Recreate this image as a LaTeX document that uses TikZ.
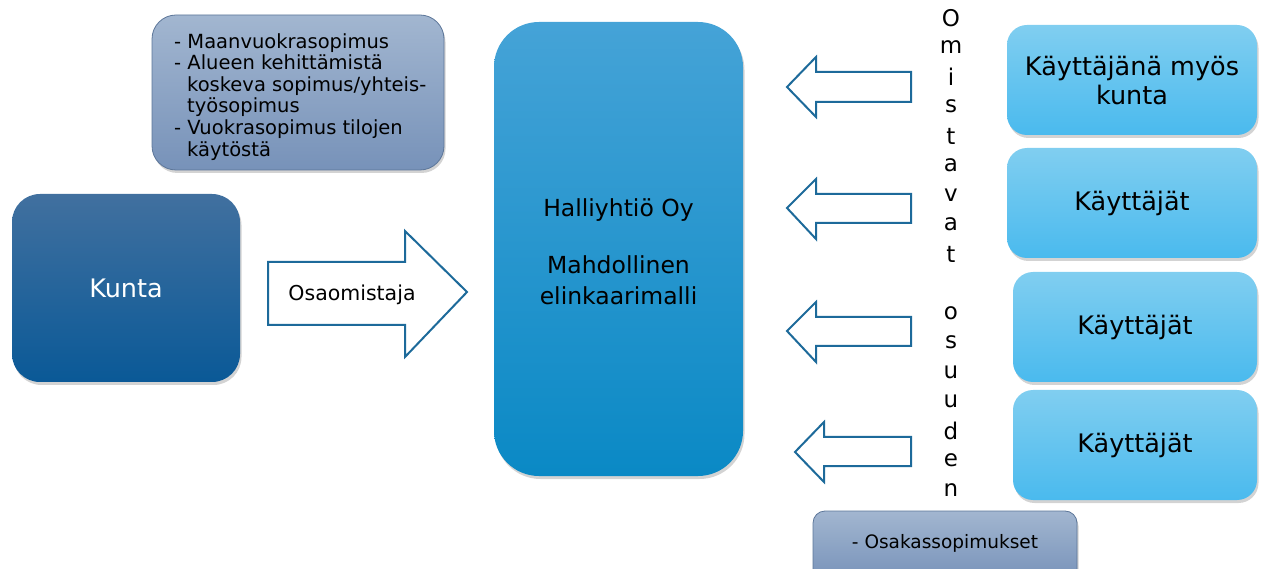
\documentclass[tikz,border=0pt]{standalone}
\usepackage{fontspec}
\setmainfont{DejaVu Sans}
\usetikzlibrary{shadows}
\definecolor{greytop}{HTML}{A2B6D0}
\definecolor{greybot}{HTML}{7792B9}
\definecolor{greyedge}{HTML}{5C7699}
\definecolor{kuntatop}{HTML}{41709F}
\definecolor{kuntabot}{HTML}{0A5997}
\definecolor{hallitop}{HTML}{45A3D7}
\definecolor{hallibot}{HTML}{0A89C5}
\definecolor{usertop}{HTML}{80CEF0}
\definecolor{userbot}{HTML}{4ABAEE}
\definecolor{arrowedge}{HTML}{1D6A9A}
\tikzset{
  boxshadow/.style={drop shadow={opacity=0.35, shadow xshift=1.5pt, shadow yshift=-3pt}},
  greybox/.style={draw=greyedge, line width=0.8pt, rounded corners=24pt,
    top color=greytop, bottom color=greybot, boxshadow, inner sep=0pt},
  kuntabox/.style={rounded corners=28pt, top color=kuntatop, bottom color=kuntabot,
    boxshadow, text=white, font=\fontsize{25.5}{30}\selectfont, inner sep=0pt},
  hallibox/.style={rounded corners=45pt, top color=hallitop, bottom color=hallibot,
    boxshadow, inner sep=0pt},
  userbox/.style={rounded corners=20pt, top color=usertop, bottom color=userbot,
    boxshadow, font=\fontsize{25.5}{29}\selectfont, align=center, inner sep=0pt},
  blockarrow/.style={draw=arrowedge, line width=2pt, fill=white, line join=miter},
  vletter/.style={font=\fontsize{23}{26}\selectfont, inner sep=0pt},
}
\begin{document}
\begin{tikzpicture}[x=1pt, y=-1pt]
\useasboundingbox (0,0) rectangle (1262,569);

% agreements on land and premises
\node[greybox, minimum width=292pt, minimum height=155pt] (sopimukset) at (298,92.5) {};
\node[anchor=north west, align=left, font=\fontsize{19.5}{21.6}\selectfont, inner sep=0pt]
  (sopteksti) at (174,33)
  {- Maanvuokrasopimus\\
   - Alueen kehittämistä\\
   \hspace*{13pt}koskeva sopimus/yhteis-\\
   \hspace*{13pt}työsopimus\\
   - Vuokrasopimus tilojen\\
   \hspace*{13pt}käytöstä};

% municipality
\node[kuntabox, minimum width=228pt, minimum height=188pt] (kunta) at (126,288) {Kunta};

% hall company
\node[hallibox, minimum width=249pt, minimum height=454pt] (halli) at (618.5,249) {};
\node[font=\fontsize{23.5}{31}\selectfont, align=center, inner sep=0pt] (halliteksti) at (618.5,252)
  {Halliyhtiö Oy\\[26pt]Mahdollinen\\elinkaarimalli};

% part-owner arrow
\draw[blockarrow] (268,262) -- (405,262) -- (405,231) -- (467,292) -- (405,357)
  -- (405,325) -- (268,325) -- cycle;
\node[font=\fontsize{20.5}{24}\selectfont, inner sep=0pt] (osaomistaja) at (352,295) {Osaomistaja};

% users
\node[userbox, minimum width=250pt, minimum height=110pt] (k1) at (1132,80) {Käyttäjänä myös\\kunta};
\node[userbox, minimum width=250pt, minimum height=110pt] (k2) at (1132,203) {Käyttäjät};
\node[userbox, minimum width=244pt, minimum height=110pt] (k3) at (1135,327) {Käyttäjät};
\node[userbox, minimum width=244pt, minimum height=110pt] (k4) at (1135,445) {Käyttäjät};

% ownership arrows towards the hall company
\draw[blockarrow] (911,72) -- (816,72) -- (816,57) -- (787,87) -- (816,117) -- (816,102) -- (911,102) -- cycle;
\draw[blockarrow] (911,194) -- (816,194) -- (816,179) -- (787,208) -- (816,239) -- (816,223) -- (911,223) -- cycle;
\draw[blockarrow] (911,317) -- (816,317) -- (816,302) -- (787,331) -- (816,362) -- (816,346) -- (911,346) -- cycle;
\draw[blockarrow] (911,437) -- (824,437) -- (824,422) -- (795,452) -- (824,482) -- (824,466) -- (911,466) -- cycle;

% vertical label
\foreach \ch [count=\i from 0] in {O,m,i,s,t,a,v,a,t,{},o,s,u,u,d,e,n}
  \node[vletter] (v\i) at (951,18+29.5*\i) {\ch};

% shareholder agreement
\node[greybox, rounded corners=12pt, minimum width=264pt, minimum height=70pt] (osakas) at (945,546) {};
\node[font=\fontsize{18.5}{22}\selectfont, inner sep=0pt] (osakasteksti) at (945,543) {- Osakassopimukset};
\end{tikzpicture}
\end{document}
